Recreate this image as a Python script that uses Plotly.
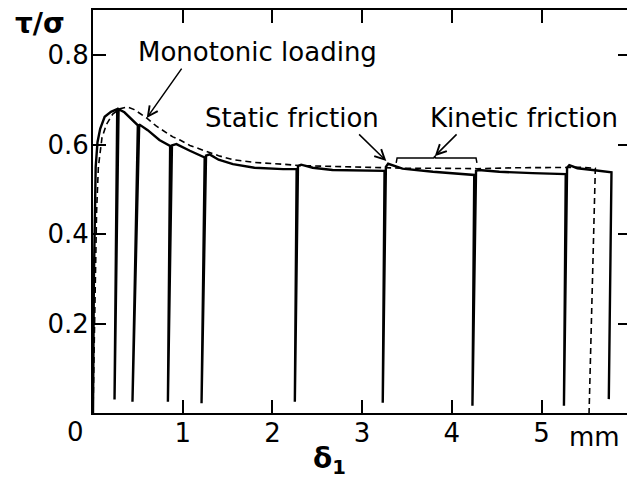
import plotly.graph_objects as go

# Monotonic loading curve (dashed)
mono_x = [0.0, 0.02, 0.04, 0.06, 0.1, 0.15, 0.22, 0.3, 0.38, 0.46, 0.53, 0.6, 0.7, 0.78, 0.89, 0.97,
          1.08, 1.19, 1.4, 1.56, 1.8, 2.12, 2.3, 2.7, 3.23, 3.5, 3.79, 4.28, 4.7, 5.0, 5.28, 5.45, 5.6, 5.53]
mono_y = [0.0, 0.25, 0.45, 0.55, 0.615, 0.645, 0.668, 0.68, 0.684, 0.678, 0.668, 0.659, 0.642, 0.632,
          0.617, 0.61, 0.598, 0.59, 0.575, 0.566, 0.56, 0.556, 0.553, 0.551, 0.548, 0.547, 0.547,
          0.546, 0.548, 0.549, 0.55, 0.549, 0.547, 0.0]

# Cyclic loading path (solid) including unload / reload excursions
cyc_x = [0.0, 0.01, 0.03, 0.05, 0.08, 0.13, 0.2, 0.27, 0.24, 0.285,
         0.35, 0.42, 0.5, 0.44, 0.515,
         0.61, 0.74, 0.86, 0.835, 0.88,
         0.93, 1.08, 1.19, 1.245, 1.21, 1.26,
         1.3, 1.4, 1.56, 1.8, 2.12, 2.27, 2.25, 2.285,
         2.32, 2.45, 2.67, 3.0, 3.25, 3.23, 3.265,
         3.29, 3.45, 3.79, 4.25, 4.23, 4.27,
         4.3, 4.53, 4.9, 5.27, 5.25, 5.285,
         5.31, 5.4, 5.57, 5.78, 5.75]
cyc_y = [0.0, 0.3, 0.55, 0.605, 0.635, 0.662, 0.673, 0.679, 0.03, 0.679,
         0.672, 0.658, 0.643, 0.025, 0.645,
         0.632, 0.61, 0.597, 0.025, 0.598,
         0.601, 0.586, 0.575, 0.571, 0.022, 0.575,
         0.578, 0.566, 0.556, 0.548, 0.545, 0.545, 0.025, 0.552,
         0.555, 0.548, 0.543, 0.541, 0.541, 0.023, 0.55,
         0.557, 0.546, 0.539, 0.532, 0.016, 0.541,
         0.543, 0.539, 0.536, 0.534, 0.016, 0.548,
         0.554, 0.547, 0.543, 0.538, 0.031]

# Axis ticks
x_ticks = [1, 2, 3, 4, 5]
x_labels = ["1", "2", "3", "4", "5"]
y_ticks = [0.2, 0.4, 0.6, 0.8]
y_labels = ["0.2", "0.4", "0.6", "0.8"]

# Bracket for kinetic friction
bracket_x = [3.38, 3.39, 3.80, 3.81, 3.82, 4.27, 4.28]
bracket_y = [0.559, 0.570, 0.570, 0.574, 0.570, 0.570, 0.559]

FONT = "DejaVu Sans"

fig = go.Figure()
fig.add_trace(go.Scatter(x=mono_x, y=mono_y, mode="lines",
                         line=dict(color="black", width=1.6, dash="6px,4px"),
                         hoverinfo="skip"))
fig.add_trace(go.Scatter(x=cyc_x, y=cyc_y, mode="lines",
                         line=dict(color="black", width=2.4),
                         hoverinfo="skip"))
fig.add_trace(go.Scatter(x=bracket_x, y=bracket_y, mode="lines",
                         line=dict(color="black", width=1.5),
                         hoverinfo="skip"))
fig.add_trace(go.Scatter(x=[0], y=[0], yaxis="y2", mode="markers",
                         marker=dict(opacity=0), hoverinfo="skip"))

ax_common = dict(showgrid=False, zeroline=False, ticks="inside",
                 tickcolor="black", tickwidth=1.5, linecolor="black",
                 tickfont=dict(family=FONT, size=26, color="black"))

fig.update_layout(
    width=627, height=482,
    margin=dict(l=93, r=0, t=10, b=69),
    paper_bgcolor="white", plot_bgcolor="white",
    showlegend=False,
    xaxis=dict(range=[0, 5.953], tickvals=x_ticks, ticktext=x_labels,
               ticklen=13, showline=True, linewidth=2, mirror="ticks",
               ticklabelstandoff=-4, **ax_common),
    yaxis=dict(range=[0, 0.9006], tickvals=y_ticks, ticktext=y_labels,
               ticklen=13, showline=True, linewidth=2,
               ticklabelstandoff=-3, **ax_common),
    yaxis2=dict(range=[0, 0.9006], overlaying="y", side="right", tickvals=y_ticks,
                showticklabels=False, ticklen=9, showline=False,
                showgrid=False, zeroline=False, ticks="inside",
                tickcolor="black", tickwidth=1.5),
)

txt = dict(family=FONT, size=26, color="black")
annotations = [
    dict(x=1.836, y=0.807, text="Monotonic loading"),
    dict(x=2.22, y=0.659, text="Static friction"),
    dict(x=4.81, y=0.659, text="Kinetic friction"),
]
for a in annotations:
    fig.add_annotation(x=a["x"], y=a["y"], text=a["text"], showarrow=False,
                       font=txt, xref="x", yref="y",
                       xanchor="center", yanchor="middle")

# Labels outside the plotting area (paper coordinates)
outside = [
    dict(x=-0.0337, y=-0.047, text="0", size=26),
    dict(x=0.940, y=-0.060, text="mm", size=26),
    dict(x=0.4438, y=-0.119, text="<b>δ<sub>1</sub></b>", size=28),
    dict(x=-0.0993, y=0.9677, text="<b>τ/σ</b>", size=28),
]
for a in outside:
    fig.add_annotation(x=a["x"], y=a["y"], text=a["text"], showarrow=False,
                       font=dict(family=FONT, size=a["size"], color="black"),
                       xref="paper", yref="paper",
                       xanchor="center", yanchor="middle")

# Arrows: (head_x, head_y, tail_x, tail_y)
arrows = [
    (0.599, 0.659, 1.0, 0.773),
    (3.27, 0.563, 2.95, 0.626),
    (3.81, 0.574, 4.07, 0.626),
]
for hx, hy, tx, ty in arrows:
    fig.add_annotation(x=hx, y=hy, ax=tx, ay=ty, xref="x", yref="y",
                       axref="x", ayref="y", text="", showarrow=True,
                       arrowhead=5, arrowsize=1.3, arrowwidth=1.5, arrowcolor="black")

fig.write_html("out.html")
